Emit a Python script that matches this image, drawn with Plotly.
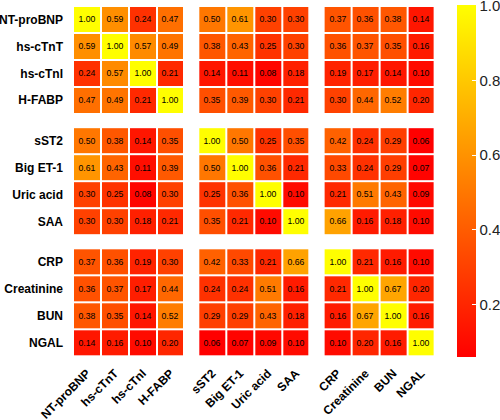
import plotly.graph_objects as go

labels = ["NT-proBNP", "hs-cTnT", "hs-cTnI", "H-FABP",
          "sST2", "Big ET-1", "Uric acid", "SAA",
          "CRP", "Creatinine", "BUN", "NGAL"]

r_ntprobnp  = [1.00, 0.59, 0.24, 0.47, 0.50, 0.61, 0.30, 0.30, 0.37, 0.36, 0.38, 0.14]
r_hsctnt    = [0.59, 1.00, 0.57, 0.49, 0.38, 0.43, 0.25, 0.30, 0.36, 0.37, 0.35, 0.16]
r_hsctni    = [0.24, 0.57, 1.00, 0.21, 0.14, 0.11, 0.08, 0.18, 0.19, 0.17, 0.14, 0.10]
r_hfabp     = [0.47, 0.49, 0.21, 1.00, 0.35, 0.39, 0.30, 0.21, 0.30, 0.44, 0.52, 0.20]
r_sst2      = [0.50, 0.38, 0.14, 0.35, 1.00, 0.50, 0.25, 0.35, 0.42, 0.24, 0.29, 0.06]
r_biget1    = [0.61, 0.43, 0.11, 0.39, 0.50, 1.00, 0.36, 0.21, 0.33, 0.24, 0.29, 0.07]
r_uricacid  = [0.30, 0.25, 0.08, 0.30, 0.25, 0.36, 1.00, 0.10, 0.21, 0.51, 0.43, 0.09]
r_saa       = [0.30, 0.30, 0.18, 0.21, 0.35, 0.21, 0.10, 1.00, 0.66, 0.16, 0.18, 0.10]
r_crp       = [0.37, 0.36, 0.19, 0.30, 0.42, 0.33, 0.21, 0.66, 1.00, 0.21, 0.16, 0.10]
r_creat     = [0.36, 0.37, 0.17, 0.44, 0.24, 0.24, 0.51, 0.16, 0.21, 1.00, 0.67, 0.20]
r_bun       = [0.38, 0.35, 0.14, 0.52, 0.29, 0.29, 0.43, 0.18, 0.16, 0.67, 1.00, 0.16]
r_ngal      = [0.14, 0.16, 0.10, 0.20, 0.06, 0.07, 0.09, 0.10, 0.10, 0.20, 0.16, 1.00]

matrix = [r_ntprobnp, r_hsctnt, r_hsctni, r_hfabp, r_sst2, r_biget1,
          r_uricacid, r_saa, r_crp, r_creat, r_bun, r_ngal]

group_size = 4
group_gap = 0.5
pos = [(i // group_size) * (group_size + group_gap) + (i % group_size) for i in range(len(labels))]

fig = go.Figure()
ngroups = len(labels) // group_size
for gr in range(ngroups):
    rows = list(range(gr * group_size, (gr + 1) * group_size))
    for gc in range(ngroups):
        cols = list(range(gc * group_size, (gc + 1) * group_size))
        z = [[matrix[r][c] for c in cols] for r in rows]
        fig.add_trace(go.Heatmap(
            z=z, x=[pos[c] for c in cols], y=[pos[r] for r in rows],
            coloraxis="coloraxis", xgap=2, ygap=2,
            text=[[f"{v:.2f}" for v in row] for row in z],
            texttemplate="%{text}",
            textfont=dict(size=8.7, color="black", family="Liberation Sans, Arial"),
            hoverinfo="skip",
        ))

fig.update_layout(
    width=500, height=420,
    margin=dict(l=73, r=65, t=6, b=64, autoexpand=False),
    plot_bgcolor="white", paper_bgcolor="white",
    font=dict(family="Liberation Sans, Arial", color="black"),
    coloraxis=dict(
        cmin=0.06, cmax=1.002,
        colorscale=[[0, "rgb(255,0,0)"], [1, "rgb(255,255,0)"]],
        colorbar=dict(
            x=1.061, xanchor="left", xpad=0, y=0.5, yanchor="middle",
            len=1.005, lenmode="fraction", ypad=0, thickness=19,
            outlinewidth=0,
            tickvals=[0.2, 0.4, 0.6, 0.8, 1.0], tickformat=".1f",
            ticks="inside", tickcolor="white", ticklen=4,
            ticklabeloverflow="allow",
            tickfont=dict(size=15, color="#222", family="Liberation Sans, Arial"),
        ),
    ),
    xaxis=dict(
        range=[-0.5, pos[-1] + 0.5], tickvals=pos, ticktext=labels,
        tickangle=-45, showgrid=False, zeroline=False, ticks="",
        tickfont=dict(size=12, family="Liberation Sans, Arial", color="black", weight="bold"),
        ticklabelstandoff=7, automargin=False,
    ),
    yaxis=dict(
        range=[pos[-1] + 0.5, -0.5], tickvals=pos, ticktext=labels,
        showgrid=False, zeroline=False, ticks="",
        tickfont=dict(size=12, family="Liberation Sans, Arial", color="black", weight="bold"),
        ticklabelstandoff=9, automargin=False,
    ),
)

fig.write_html(
    "out.html",
    config={"displayModeBar": False},
    post_script="document.body.style.margin='0';document.body.style.overflow='hidden';",
)
